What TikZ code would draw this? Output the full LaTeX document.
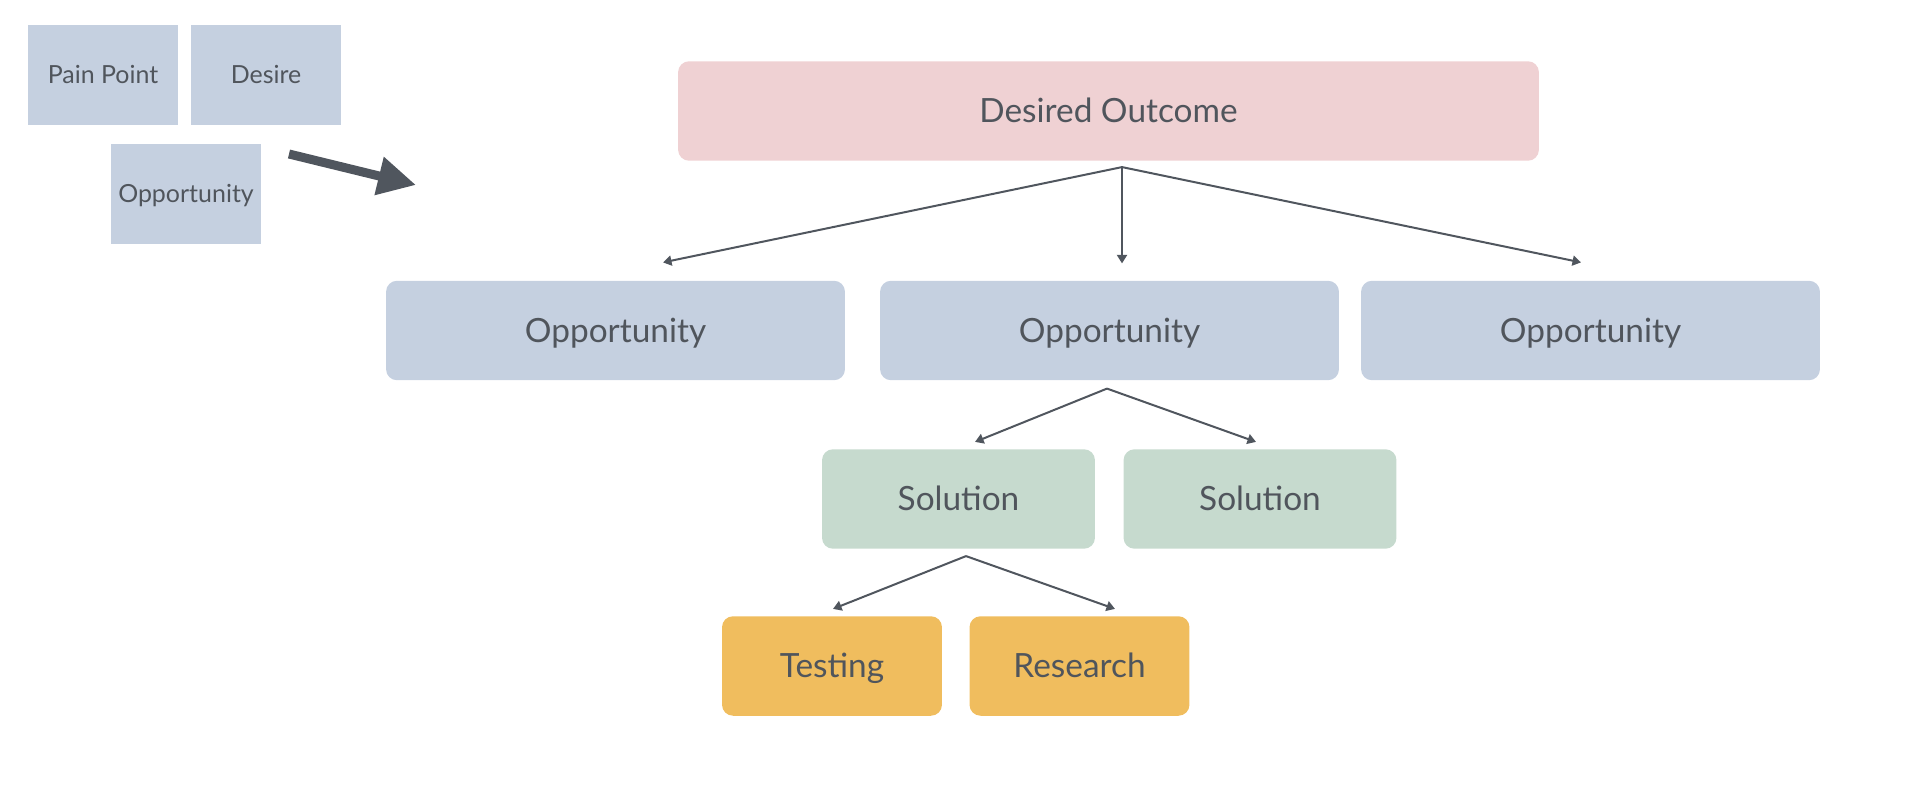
\documentclass[tikz,border=0pt]{standalone}
\usepackage{fontspec}
\setmainfont{Lato}
\usepackage{tikz}
\usetikzlibrary{calc,arrows.meta,positioning}
\usepackage{xcolor}
\definecolor{mtext}{HTML}{50555C}
\definecolor{mpink}{HTML}{EFD1D3}
\definecolor{mblue}{HTML}{C5D0E0}
\definecolor{mgreen}{HTML}{C6DACE}
\definecolor{mgold}{HTML}{F0BD5E}
\definecolor{marrow}{HTML}{50565E}
\tikzset{
  box/.style={rectangle,rounded corners=0.22cm,inner sep=0pt,text=mtext,
    font=\fontsize{19}{23}\selectfont,text height=13.6pt,text depth=0pt,
    minimum height=1.99cm},
  goal/.style={box,fill=mpink,minimum width=17.22cm},
  opp/.style={box,fill=mblue,minimum width=9.18cm},
  sol/.style={box,fill=mgreen,minimum width=5.46cm},
  exp/.style={box,fill=mgold,minimum width=4.4cm},
  card/.style={rectangle,fill=mblue,inner sep=0pt,text=mtext,
    font=\fontsize{14.2}{17}\selectfont,text height=10.2pt,text depth=0pt,
    minimum width=3cm,minimum height=2cm},
  link/.style={-{Triangle[length=0.17cm,width=0.2cm]},line width=0.04cm,marrow},
  bigarr/.style={-{Triangle[length=0.76cm,width=0.74cm]},line width=0.18cm,marrow},
}

\begin{document}
\begin{tikzpicture}[x=0.02cm,y=-0.02cm]
    \useasboundingbox (0,0) rectangle (1905,784);
    % legend cards
    \node[card] (pain) at (103,75) {Pain Point};
    \node[card] (desire) at (266,75) {Desire};
    \node[card] (oppcard) at (186,194) {Opportunity};
    % arrow into the tree
    \coordinate (bigA) at (289,154);
    \coordinate (bigB) at (416,185);
    \draw[bigarr] (bigA) -- (bigB);
    % level 1
    \node[goal] (outcome) at (1108.5,111) {Desired Outcome};
    % level 2
    \node[opp] (opp1) at (615.5,330.5) {Opportunity};
    \node[opp] (opp2) at (1109.5,330.5) {Opportunity};
    \node[opp] (opp3) at (1590.5,330.5) {Opportunity};
    % level 3
    \node[sol] (sol1) at (958.5,499) {Solution};
    \node[sol] (sol2) at (1260,499) {Solution};
    % level 4
    \node[exp] (test) at (832,666) {Testing};
    \node[exp] (research) at (1079.5,666) {Research};
    % links
    \draw[link] ($(outcome.south)+(13.5,6)$) -- ($(opp1.north)+(47.5,-18)$);
    \draw[link] ($(outcome.south)+(13.5,6)$) -- ($(opp2.north)+(12.5,-17)$);
    \draw[link] ($(outcome.south)+(13.5,6)$) -- ($(opp3.north)+(-9.5,-18)$);
    \draw[link] ($(opp2.south)+(-2.5,8)$) -- ($(sol1.north)+(16.5,-7)$);
    \draw[link] ($(opp2.south)+(-2.5,8)$) -- ($(sol2.north)+(-4,-7)$);
    \draw[link] ($(sol1.south)+(7.5,7)$) -- ($(test.north)+(1,-7)$);
    \draw[link] ($(sol1.south)+(7.5,7)$) -- ($(research.north)+(35.5,-7)$);
\end{tikzpicture}
\end{document}
